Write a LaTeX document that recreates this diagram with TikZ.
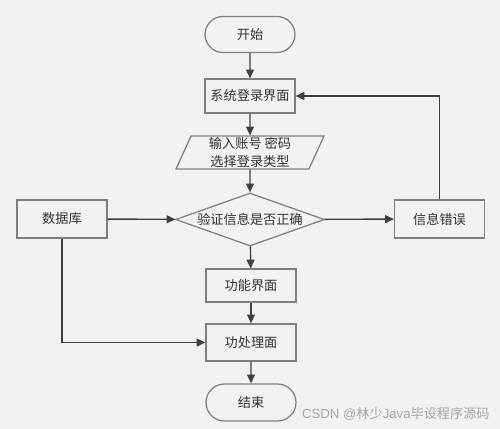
\documentclass[tikz,border=0pt]{standalone}
\usepackage{fontspec}
\setmainfont{Liberation Sans}
\newfontfamily\cjk{Noto Sans CJK SC}
\usetikzlibrary{shapes.geometric,shapes.misc,arrows.meta}
\definecolor{bg}{HTML}{F2F2F2}
\definecolor{boxfill}{HTML}{F2F2F2}
\definecolor{border}{HTML}{7F7F7F}
\definecolor{lin}{HTML}{404040}
\definecolor{txt}{HTML}{333333}
\definecolor{wm}{HTML}{A6A6A6}
\tikzset{
  base/.style={draw=border, fill=boxfill, line width=0.7pt, text=txt, font=\cjk\fontsize{7.5}{10.5}\selectfont, inner sep=0pt, align=center},
  procbox/.style={base, rectangle, minimum width=1.8cm, minimum height=0.68cm},
  termbox/.style={base, rounded rectangle, minimum width=1.8cm, minimum height=0.72cm},
  iobox/.style={base, trapezium, trapezium left angle=64, trapezium right angle=116, trapezium stretches body, minimum width=2.96cm, minimum height=0.66cm},
  decbox/.style={base, diamond, aspect=2.8, minimum width=2.98cm, minimum height=1.06cm},
  conn/.style={draw=lin, line width=0.8pt, -{Triangle[length=5pt,width=4.5pt]}},
  plain/.style={draw=lin, line width=0.8pt}
}
\begin{document}
\begin{tikzpicture}[x=0.02cm,y=-0.02cm]
\useasboundingbox[fill=bg] (0,0) rectangle (500,429);
\node[termbox] (start) at (250,34.5) {开始};
\node[procbox] (login) at (250,96) {系统登录界面};
\node[iobox] (input) at (250,152.5) {输入账号 密码\\选择登录类型};
\node[decbox] (check) at (250,219.5) {验证信息是否正确};
\node[procbox, minimum height=0.76cm] (db) at (62,219) {数据库};
\node[procbox, minimum height=0.76cm] (err) at (439.5,219) {信息错误};
\node[procbox, minimum height=0.66cm] (func) at (251,285.5) {功能界面};
\node[procbox, minimum height=0.74cm] (proc) at (251,342.5) {功处理面};
\node[termbox, minimum height=0.74cm] (end) at (251,402.5) {结束};
\node[font=\fontsize{7.5}{9}\selectfont, text=wm, anchor=east, inner sep=0pt] (wmark) at (490,414) {CSDN @{\cjk 林少}Java{\cjk 毕设程序源码}};
\coordinate (dbcorner) at (db.south |- proc.west);
\coordinate (errcorner) at (err.north |- login.east);
\draw[conn] (start) -- (login);
\draw[conn] (login) -- (input);
\draw[conn] (input) -- (check);
\draw[conn] (db) -- (check);
\draw[conn] (check) -- (err);
\draw[conn] (check) -- (func);
\draw[conn] (func) -- (proc);
\draw[conn] (proc) -- (end);
\draw[plain] (db.south) -- (dbcorner);
\draw[conn] (dbcorner) -- (proc.west);
\draw[plain] (err.north) -- (errcorner);
\draw[conn] (errcorner) -- (login.east);
\end{tikzpicture}
\end{document}
